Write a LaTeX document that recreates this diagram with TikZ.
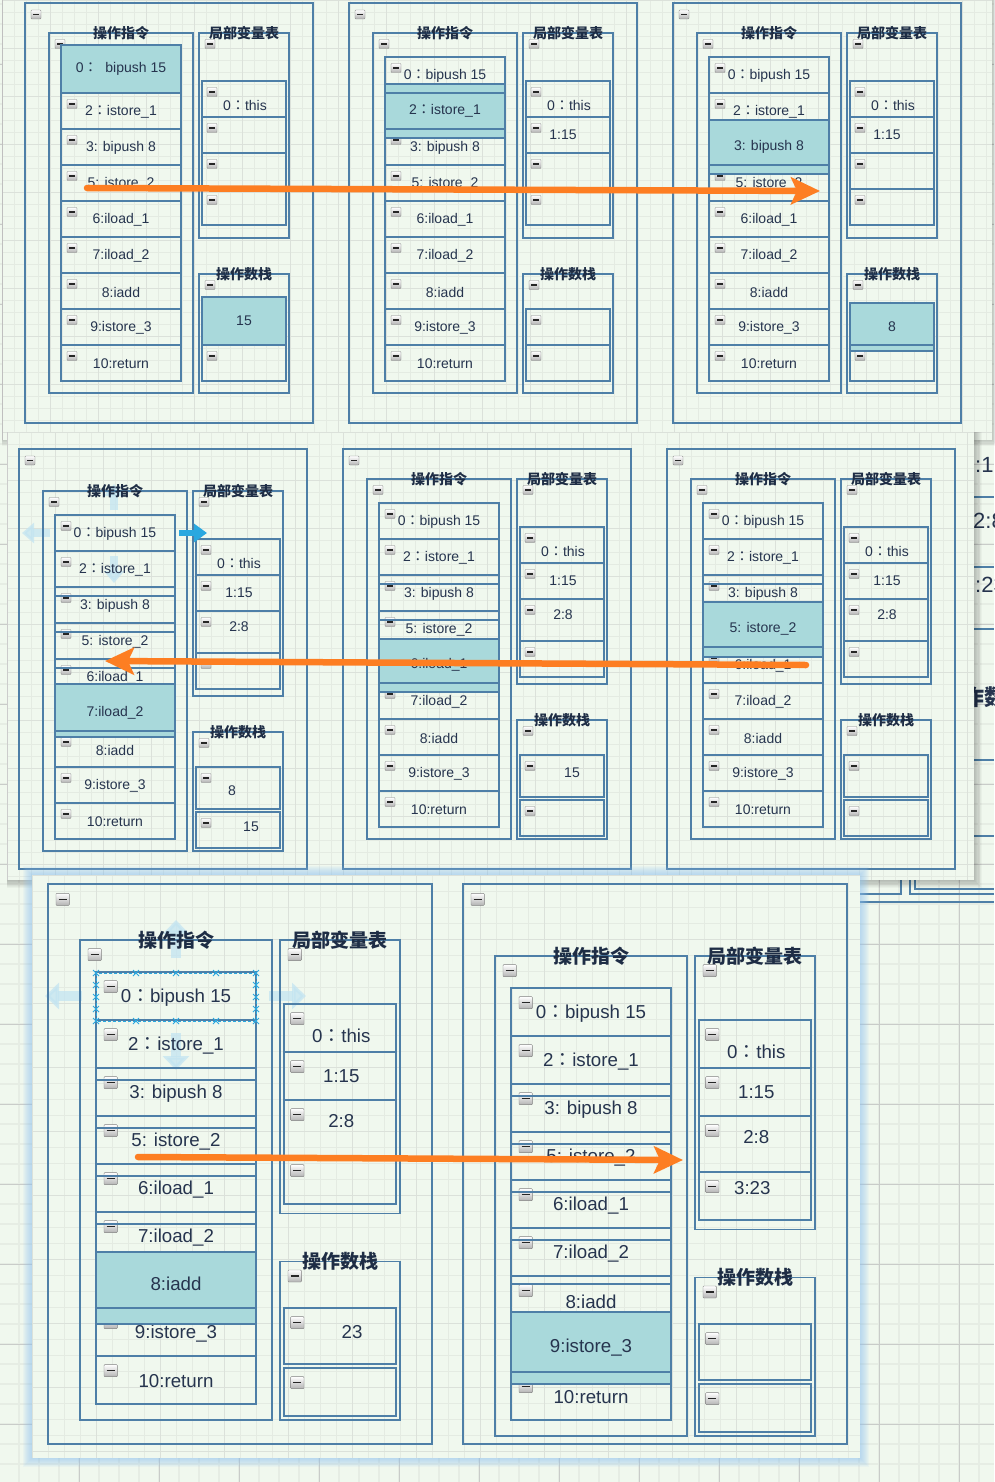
\documentclass[tikz,border=0pt]{standalone}
\usepackage{fontspec}
\setmainfont{Liberation Sans}
\newfontfamily\cjk{Noto Sans CJK SC}
\newfontfamily\colonfont{Noto Sans CJK JP}
\usetikzlibrary{arrows.meta}

\definecolor{frame}{HTML}{4E7FA7}
\definecolor{hlfill}{HTML}{A9D9DB}
\definecolor{ink}{HTML}{26344E}
\definecolor{titleink}{HTML}{1E2D45}
\definecolor{paper}{HTML}{F0F8EE}
\definecolor{gridmin}{HTML}{E4EBE2}
\definecolor{gridmaj}{HTML}{DBE1DA}
\definecolor{bgmin}{HTML}{E6EDE4}
\definecolor{bgmaj}{HTML}{C9CCC9}
\definecolor{flowcol}{HTML}{FD7E22}
\definecolor{selblue}{HTML}{2AA8E0}
\definecolor{fadeblue}{HTML}{C3E4F1}
\definecolor{glow}{HTML}{8EC3F2}

\newcommand\boxlw{1.1pt}
\newcommand\rowfont{\fontsize{14}{16}\selectfont}
\newcommand\titlefont{\cjk\bfseries\fontsize{14}{16}\selectfont}
\newcommand\fc{{\colonfont ：}}

\tikzset{
        % frames of panels, groups and cells
        cellbox/.style={draw=frame, line width=\boxlw},
        % the cell being executed
        hlbox/.style={cellbox, fill=hlfill},
        % texts
        rowtext/.style={text=ink, font=\rowfont, inner sep=0pt},
        titletext/.style={text=titleink, font=\titlefont, inner sep=0pt},
        edgetext/.style={text=ink, font=\fontsize{22}{24}\selectfont, inner sep=0pt, anchor=west},
        % orange step arrows
        flow/.style={draw=flowcol, line width=6.5pt, line cap=round, -{Stealth[length=29pt,width=27pt,inset=6pt]}},
        % editor handles
        fadearrow/.style={draw=fadeblue, line width=8pt, opacity=0.75, -{Triangle[length=12pt,width=20pt]}},
        handlearrow/.style={draw=selblue, line width=6pt, -{Triangle[length=13pt,width=18pt]}},
        selcross/.style={draw=selblue, line width=1pt},
        % grids
        gridsoft/.style={draw=gridmin, line width=0.5pt},
        gridhard/.style={draw=gridmaj, line width=0.6pt}
}

% minus icon
\newcommand\mn[2]{%
  \shadedraw[top color=white, bottom color=black!30, draw=black!50, line width=0.4pt, rounded corners=0.8pt]
    ({#1-5},{#2-4.5}) rectangle ({#1+5},{#2+4.5});
  \draw[line width=1.4pt, black!85] ({#1-3},{#2}) -- ({#1+3},{#2});}
% outer frame of a panel
\newcommand\outerframe[1]{%
  \draw[cellbox] (0,#1) rectangle (288,{#1+420});
  \mn{11}{#1+11.5}}
% the three groups
\newcommand\groups[1]{%
  \draw[cellbox] (24,42) rectangle (168,402);
  \draw[cellbox] (174,42) rectangle (264,247);
  \draw[cellbox] (174,283) rectangle (264,402);
  \mn{35}{53} \mn{185}{53} \mn{185}{294}
  \node[titletext] (#1-ops) at (96,42) {操作指令};
  \node[titletext] (#1-vars) at (219,42) {局部变量表};
  \node[titletext] (#1-stack) at (219,283) {操作数栈};}
% instruction cells, #2 = the one under the highlight
\newcommand\instrrows[2]{%
  \foreach \i/\optext in {0/{0\fc bipush 15}, 1/{2\fc istore\_1}, 2/{3: bipush 8}, 3/{5: istore\_2}, 4/{6:iload\_1}, 5/{7:iload\_2}, 6/{8:iadd}, 7/{9:istore\_3}, 8/{10:return}}{
    \draw[cellbox] (36,{66+36*\i}) rectangle (156,{102+36*\i});
    \ifnum\i=#2\else
      \mn{47}{77+36*\i}
      \node[rowtext] (#1-op\i) at (96,{85+36*\i}) {\optext};
    \fi
  }}
% variable and stack cells
\newcommand\cells[1]{%
  \foreach \ya/\yb in {#1}{\draw[cellbox] (177,\ya) rectangle (261,\yb); \mn{187}{\ya+11}}}
\newcommand\rowlines[1]{%
  \foreach \yy in {#1}{\draw[cellbox] (36,\yy) -- (156,\yy);}}
% highlighted cell: name, x1, x2, y1, y2, text y, text
\newcommand\hlcell[7]{%
  \draw[hlbox] (#2,#4) rectangle (#3,#5);
  \node[rowtext] (#1) at ({(#2+#3)/2},#6) {#7};}

\begin{document}
\begin{tikzpicture}[x=1pt, y=-1pt]
\useasboundingbox (0,0) rectangle (994,1482);
% page behind the screenshots
\fill[paper] (0,0) rectangle (994,1482);
\foreach \k in {0,...,49}{\draw[bgmin, line width=2pt] ({20*\k-1},0) -- ({20*\k-1},1482);}
\foreach \k in {0,...,74}{\draw[bgmin, line width=2pt] (0,{20*\k+4}) -- (994,{20*\k+4});}
\foreach \k in {1,...,12}{\draw[bgmaj, line width=0.8pt] ({80*\k-1},0) -- ({80*\k-1},1482);}
\foreach \k in {0,...,18}{\draw[bgmaj, line width=0.8pt] (0,{80*\k+64}) -- (994,{80*\k+64});}
\begin{scope}
  \clip (974,440) rectangle (994,880);
  \node[edgetext] (edge-a) at (975,465) {:1};
  \node[edgetext] (edge-b) at (973,521) {2:8};
  \node[edgetext] (edge-c) at (975,585) {:23};
  \node[edgetext, font=\cjk\bfseries\fontsize{22}{24}\selectfont] (edge-d) at (962,697) {作数};
  \foreach \yy in {497,567,629,760,836}{\draw[frame, line width=1.6pt] (974,\yy) -- (994,\yy);}
\end{scope}
\draw[frame, line width=1.6pt] (860,894) -- (901,894) -- (901,878);
\draw[frame, line width=1.6pt] (910,878) -- (910,894) -- (994,894);
\draw[frame, line width=1.6pt] (915,878) -- (915,889) -- (994,889);
\draw[frame, line width=1.6pt] (860,902) -- (994,902);

% top screenshot
\foreach \s in {1,...,6}{\fill[black, opacity=0.03] (2,0) rectangle ({992+\s},{440+\s});}
\fill[paper] (2,0) rectangle (992,440);
\begin{scope}
  \clip (2,0) rectangle (992,440);
  \foreach \k in {0,...,83}{\draw[gridsoft] ({2+12*\k},0) -- ({2+12*\k},440);}
  \foreach \k in {0,...,37}{\draw[gridsoft] (2,{12*\k}) -- (992,{12*\k});}
  \foreach \k in {0,...,20}{\draw[gridhard] ({2+48*\k},0) -- ({2+48*\k},440);}
  \foreach \k in {0,...,9}{\draw[gridhard] (2,{48*\k}) -- (992,{48*\k});}
\end{scope}
\draw[black!25] (2,0) -- (2,440);

\begin{scope}[shift={(25,-9)}]
  \outerframe{12}
  \groups{t1}
  \instrrows{t1}{0}
  \cells{90/126,126/162,162/198,198/234,318/354,354/390}
  \hlcell{t1-hl}{36}{156}{54}{102}{78}{0\fc\ \ bipush 15}
  \hlcell{t1-top}{177}{261}{306}{354}{330}{15}
  \node[rowtext] (t1-v0) at (220,114) {0\fc this};
\end{scope}

\begin{scope}[shift={(349,-9)}]
  \outerframe{12}
  \groups{t2}
  \instrrows{t2}{1}
  \cells{90/126,126/162,162/198,198/234,318/354,354/390}
  \hlcell{t2-hl}{36}{156}{93}{147}{120}{2\fc istore\_1}
  \rowlines{102,138}
  \node[rowtext] (t2-v0) at (220,114) {0\fc this};
  \node[rowtext] (t2-v1) at (214,144) {1:15};
\end{scope}

\begin{scope}[shift={(673,-9)}]
  \outerframe{12}
  \groups{t3}
  \instrrows{t3}{2}
  \cells{90/126,126/162,162/198,198/234,318/354,354/390}
  \hlcell{t3-hl}{36}{156}{129}{183}{156}{3: bipush 8}
  \rowlines{174}
  \hlcell{t3-top}{177}{261}{312}{360}{336}{8}
  \draw[cellbox] (177,354) -- (261,354);
  \node[rowtext] (t3-v0) at (220,114) {0\fc this};
  \node[rowtext] (t3-v1) at (214,144) {1:15};
\end{scope}

% middle screenshot
\foreach \s in {1,...,8}{\fill[black, opacity=0.03] (7,432) rectangle ({974+\s},{880+\s});}
\fill[paper] (7,432) rectangle (974,880);
\begin{scope}
  \clip (7,432) rectangle (974,880);
  \foreach \k in {0,...,81}{\draw[gridsoft] ({7+12*\k},432) -- ({7+12*\k},880);}
  \foreach \k in {0,...,37}{\draw[gridsoft] (7,{432+12*\k}) -- (974,{432+12*\k});}
  \foreach \k in {0,...,20}{\draw[gridhard] ({7+48*\k},432) -- ({7+48*\k},880);}
  \foreach \k in {0,...,9}{\draw[gridhard] (7,{432+48*\k}) -- (974,{432+48*\k});}
\end{scope}
\draw[black!20] (7,432) -- (7,880);
% faded handles behind the first middle panel
\draw[fadearrow] (50,533) -- (22,533);
\draw[fadearrow] (114,510) -- (114,484);
\draw[fadearrow] (114,556) -- (114,583);

\begin{scope}[shift={(19,449)}]
  \outerframe{0}
  \groups{m1}
  \instrrows{m1}{5}
  \cells{90/126,126/162,162/204,204/240,318/360,363/399}
  \rowlines{147,183,219}
  \hlcell{m1-hl}{36}{156}{235}{288}{264}{7:iload\_2}
  \rowlines{282}
  \node[rowtext] (m1-v0) at (220,114) {0\fc this};
  \node[rowtext] (m1-v1) at (220,144) {1:15};
  \node[rowtext] (m1-v2) at (220,178) {2:8};
  \node[rowtext] (m1-s0) at (213,342) {8};
  \node[rowtext] (m1-s1) at (232,378) {15};
\end{scope}
\draw[handlearrow] (179,533) -- (207,533);

\begin{scope}[shift={(343,437)}]
  \outerframe{12}
  \groups{m2}
  \instrrows{m2}{4}
  \cells{90/126,126/162,162/204,204/240,318/360,363/399}
  \rowlines{147,183}
  \hlcell{m2-hl}{36}{156}{202}{255}{228}{6:iload\_1}
  \rowlines{246}
  \node[rowtext] (m2-v0) at (220,114) {0\fc this};
  \node[rowtext] (m2-v1) at (220,144) {1:15};
  \node[rowtext] (m2-v2) at (220,178) {2:8};
  \node[rowtext] (m2-s0) at (229,336) {15};
\end{scope}

\begin{scope}[shift={(667,437)}]
  \outerframe{12}
  \groups{m3}
  \instrrows{m3}{3}
  \cells{90/126,126/162,162/204,204/240,318/360,363/399}
  \rowlines{147}
  \hlcell{m3-hl}{36}{156}{165}{220}{192}{5: istore\_2}
  \rowlines{210}
  \node[rowtext] (m3-v0) at (220,114) {0\fc this};
  \node[rowtext] (m3-v1) at (220,144) {1:15};
  \node[rowtext] (m3-v2) at (220,178) {2:8};
\end{scope}

% bottom screenshot
\foreach \s in {1,...,9}{\fill[glow, opacity=0.08] ({32-\s},{875-\s}) rectangle ({860+\s},{1458+\s});}
\fill[paper] (32,875) rectangle (860,1458);
\begin{scope}
  \clip (32,875) rectangle (860,1458);
  \foreach \k in {0,...,52}{\draw[gridsoft] ({32+16*\k},875) -- ({32+16*\k},1458);}
  \foreach \k in {0,...,37}{\draw[gridsoft] (32,{875+16*\k}) -- (860,{875+16*\k});}
  \foreach \k in {0,...,13}{\draw[gridhard] ({32+64*\k},875) -- ({32+64*\k},1458);}
  \foreach \k in {0,...,9}{\draw[gridhard] (32,{875+64*\k}) -- (860,{875+64*\k});}
\end{scope}
% faded handles behind the first bottom panel
\draw[fadearrow, line width=10pt, -{Triangle[length=14pt,width=26pt]}] (82,996) -- (45,996);
\draw[fadearrow, line width=10pt, -{Triangle[length=14pt,width=26pt]}] (269,996) -- (306,996);
\draw[fadearrow, line width=10pt, -{Triangle[length=14pt,width=26pt]}] (176,958) -- (176,920);
\draw[fadearrow, line width=10pt, -{Triangle[length=14pt,width=26pt]}] (176,1033) -- (176,1070);

\begin{scope}[shift={(48,884)}, scale=4/3]
  \renewcommand\boxlw{1.5pt}
  \renewcommand\rowfont{\fontsize{18.7}{21}\selectfont}
  \renewcommand\titlefont{\cjk\bfseries\fontsize{19}{21}\selectfont}
  \outerframe{0}
  \groups{b1}
  \instrrows{b1}{6}
  \cells{90/126,126/162,162/204,204/240,318/360,363/399}
  \rowlines{147,183,219,255}
  \hlcell{b1-hl}{36}{156}{276}{330}{300}{8:iadd}
  \rowlines{318}
  \node[rowtext] (b1-v0) at (220,114) {0\fc this};
  \node[rowtext] (b1-v1) at (220,144) {1:15};
  \node[rowtext] (b1-v2) at (220,178) {2:8};
  \node[rowtext] (b1-s0) at (228,336) {23};
\end{scope}

\begin{scope}[shift={(463,900)}, scale=4/3]
  \renewcommand\boxlw{1.5pt}
  \renewcommand\rowfont{\fontsize{18.7}{21}\selectfont}
  \renewcommand\titlefont{\cjk\bfseries\fontsize{19}{21}\selectfont}
  \outerframe{-12}
  \groups{b2}
  \instrrows{b2}{7}
  \cells{90/126,126/162,162/204,204/240,318/360,363/399}
  \rowlines{147,183,219,255,288}
  \hlcell{b2-hl}{36}{156}{309}{363}{336}{9:istore\_3}
  \rowlines{354}
  \node[rowtext] (b2-v0) at (220,114) {0\fc this};
  \node[rowtext] (b2-v1) at (220,144) {1:15};
  \node[rowtext] (b2-v2) at (220,178) {2:8};
  \node[rowtext] (b2-v3) at (217,216) {3:23};
\end{scope}

% selection of the first cell, bottom left
\draw[selblue, line width=1pt, dash pattern=on 3pt off 2pt] (96,973) rectangle (256,1021);
\foreach \hx in {96,136,176,216,256}{
  \draw[selcross] ({\hx-3},970) -- ({\hx+3},976) ({\hx-3},976) -- ({\hx+3},970);
  \draw[selcross] ({\hx-3},1018) -- ({\hx+3},1024) ({\hx-3},1024) -- ({\hx+3},1018);}
\foreach \hy in {985,997,1009}{
  \draw[selcross] (93,{\hy-3}) -- (99,{\hy+3}) (93,{\hy+3}) -- (99,{\hy-3});
  \draw[selcross] (253,{\hy-3}) -- (259,{\hy+3}) (253,{\hy+3}) -- (259,{\hy-3});}

% steps
\coordinate (step1-from) at (87,188);
\coordinate (step1-to) at (820,191);
\coordinate (step2-from) at (806,665);
\coordinate (step2-to) at (105,661);
\coordinate (step3-from) at (138,1157);
\coordinate (step3-to) at (683,1160);
\draw[flow] (step1-from) -- (step1-to);
\draw[flow] (step2-from) -- (step2-to);
\draw[flow] (step3-from) -- (step3-to);
\end{tikzpicture}
\end{document}
